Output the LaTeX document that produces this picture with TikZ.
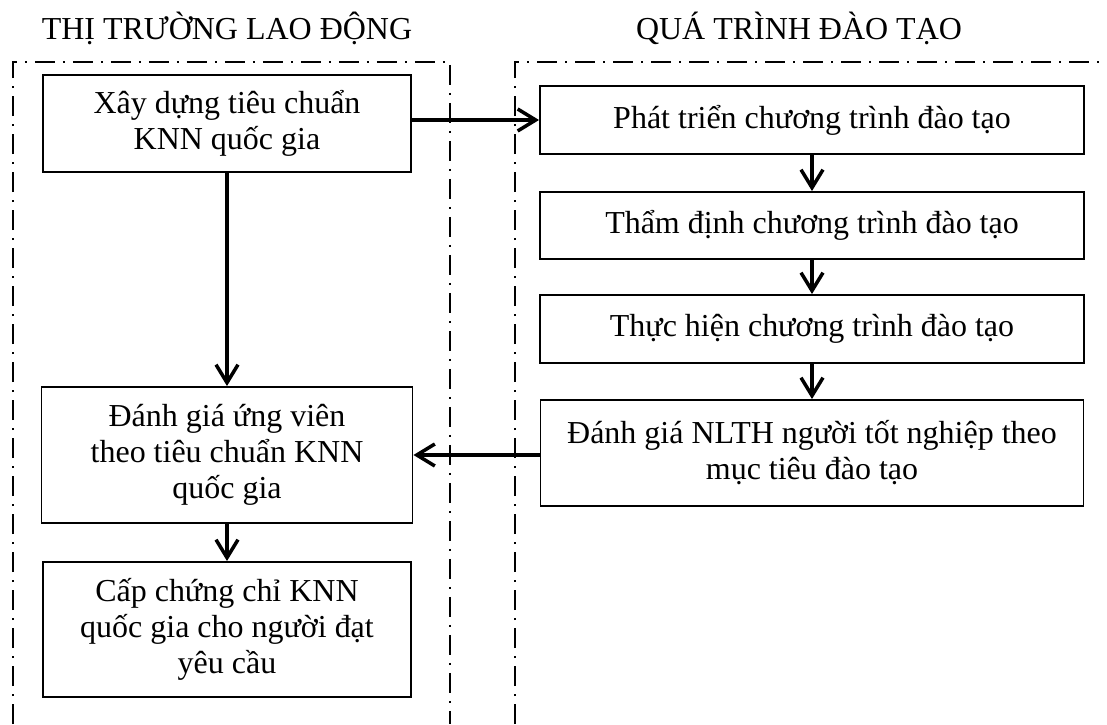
\documentclass[tikz,border=0pt]{standalone}
\usepackage{fontspec}
\setmainfont{Liberation Serif}
\usetikzlibrary{arrows.meta}

\begin{document}
\begin{tikzpicture}[
    box/.style={draw, line width=1.1pt, align=center, inner sep=0pt, font=\fontsize{18.2}{20.5}\selectfont},
    zone/.style={line width=1.2pt, dash pattern=on 0.4cm off 0.16cm on 0.04cm off 0.16cm},
    arr/.style={line width=2pt, -{Straight Barb[length=0.36cm,width=0.44cm]}},
    title/.style={anchor=base, font=\fontsize{18.2}{20.5}\selectfont}
]
    \useasboundingbox (0,0) rectangle (22.14,14.48);

    % Titles
    \node[title] (market) at (4.54,13.68) {THỊ TRƯỜNG LAO ĐỘNG};
    \node[title] (training) at (15.98,13.68) {QUÁ TRÌNH ĐÀO TẠO};

    % Frames
    \draw[zone] (0.26,0) -- (0.26,13.24) -- (9.0,13.24) -- (9.0,0);
    \draw[zone] (10.3,0) -- (10.3,13.24) -- (22.14,13.24);

    % Left column
    \node[box, minimum width=7.36cm, minimum height=1.94cm] (std) at (4.54,12.01) {Xây dựng tiêu chuẩn\\KNN quốc gia};
    \node[box, minimum width=7.42cm, minimum height=2.72cm] (assess) at (4.54,5.38) {Đánh giá ứng viên\\theo tiêu chuẩn KNN\\quốc gia};
    \node[box, minimum width=7.36cm, minimum height=2.70cm] (cert) at (4.54,1.89) {Cấp chứng chỉ KNN\\quốc gia cho người đạt\\yêu cầu};

    % Right column
    \node[box, minimum width=10.88cm, minimum height=1.36cm] (dev) at (16.24,12.08) {Phát triển chương trình đào tạo};
    \node[box, minimum width=10.88cm, minimum height=1.34cm] (eval) at (16.24,9.97) {Thẩm định chương trình đào tạo};
    \node[box, minimum width=10.88cm, minimum height=1.36cm] (run) at (16.24,7.90) {Thực hiện chương trình đào tạo};
    \node[box, minimum width=10.86cm, minimum height=2.12cm] (grad) at (16.24,5.42) {Đánh giá NLTH người tốt nghiệp theo\\mục tiêu đào tạo};

    % Arrows
    \draw[arr] (std.east |- dev) -- (dev.west);
    \draw[arr] (std) -- (assess);
    \draw[arr] (assess) -- (cert);
    \draw[arr] (dev) -- (eval);
    \draw[arr] (eval) -- (run);
    \draw[arr] (run) -- (grad);
    \draw[arr] (grad.west |- assess) -- (assess.east);
\end{tikzpicture}
\end{document}
